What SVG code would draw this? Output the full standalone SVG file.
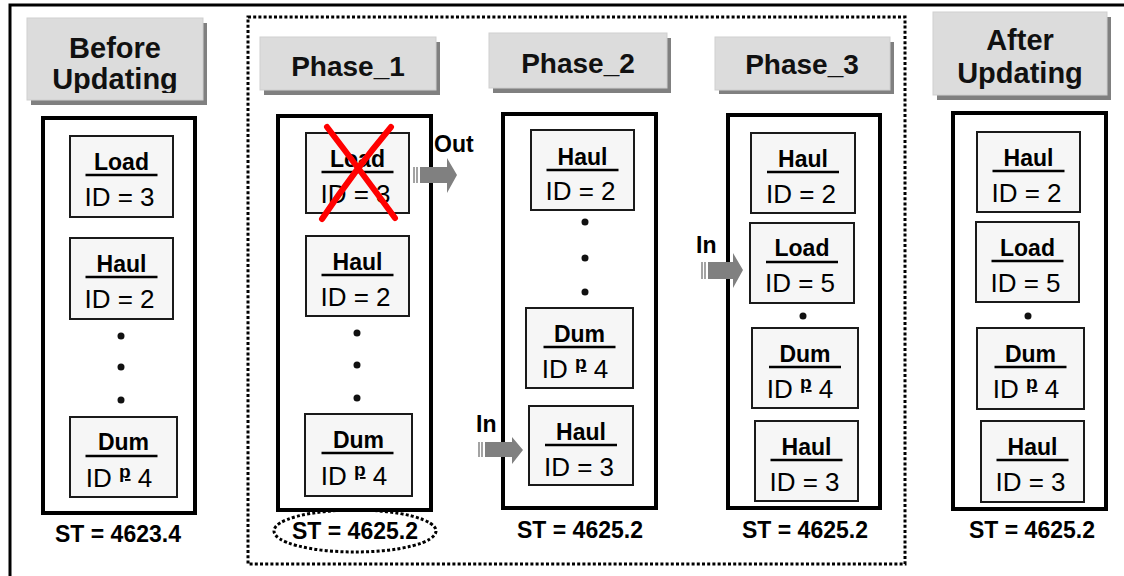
<svg xmlns="http://www.w3.org/2000/svg" width="1124" height="576" viewBox="0 0 1124 576">
  <style>
    text { font-family: "Liberation Sans", Arial, sans-serif; fill: #000; }
    .hdr { fill: #dcdcdc; stroke: #cfcfcf; stroke-width: 1; }
    .shd { fill: #808080; }
    .ht { font-size: 28px; font-weight: bold; text-anchor: middle; fill: #111; }
    .ht2 { font-size: 29px; font-weight: bold; text-anchor: middle; fill: #111; }
    .cont { fill: #fff; stroke: #000; stroke-width: 4; }
    .box { fill: #f6f6f6; stroke: #1a1a1a; stroke-width: 2; }
    .nm { font-size: 23px; font-weight: bold; text-anchor: middle; }
    .id { font-size: 26px; text-anchor: middle; }
    .sup { font-size: 19px; font-weight: bold; text-decoration: underline; }
    .ul { stroke: #000; stroke-width: 2.5; }
    .dot { fill: #111; }
    .st { font-size: 23px; font-weight: bold; text-anchor: middle; }
    .lbl { font-size: 23px; font-weight: bold; }
    .arw { fill: #808080; }
    .tail { stroke: #8c8c8c; stroke-width: 1.6; }
    .cross { fill: none; stroke: #f00; stroke-width: 6; stroke-linecap: round; }
    .dotted { fill: none; stroke: #000; stroke-width: 3; stroke-dasharray: 3 2.2; }
  </style>
  <defs>
    <clipPath id="clipBefore"><rect x="27" y="18" width="176" height="75"/></clipPath>
  </defs>

  <!-- outer frame (top and left edges) -->
  <path d="M10 576 V5 H1124" fill="none" stroke="#000" stroke-width="3"/>

  <!-- dotted frame enclosing the three update phases -->
  <rect class="dotted" x="248" y="17" width="657" height="547"/>

  <!-- column headers -->
  <g id="hdr-before">
    <rect class="shd" x="31" y="23" width="176" height="82"/>
    <rect class="hdr" x="27" y="18" width="176" height="82"/>
    <g clip-path="url(#clipBefore)">
      <text class="ht2" x="115" y="58">Before</text>
      <text class="ht2" x="115" y="89">Updating</text>
    </g>
  </g>
  <g id="hdr-phase1">
    <rect class="shd" x="264" y="42" width="176" height="53"/>
    <rect class="hdr" x="260" y="37" width="176" height="53"/>
    <text class="ht" x="348" y="76">Phase_1</text>
  </g>
  <g id="hdr-phase2">
    <rect class="shd" x="493" y="38" width="178" height="55"/>
    <rect class="hdr" x="489" y="33" width="178" height="55"/>
    <text class="ht" x="578" y="73">Phase_2</text>
  </g>
  <g id="hdr-phase3">
    <rect class="shd" x="719" y="42" width="175" height="52"/>
    <rect class="hdr" x="715" y="37" width="175" height="53"/>
    <text class="ht" x="802" y="74">Phase_3</text>
  </g>
  <g id="hdr-after">
    <rect class="shd" x="937" y="17" width="174" height="83"/>
    <rect class="hdr" x="933" y="12" width="174" height="83"/>
    <text class="ht2" x="1020" y="50">After</text>
    <text class="ht2" x="1020" y="83">Updating</text>
  </g>

  <!-- Before Updating -->
  <g id="col-before">
    <rect class="cont" x="43" y="118" width="152" height="395"/>
    <g id="b-load3">
      <rect class="box" x="70" y="136" width="103" height="81"/>
      <text class="nm" x="121.5" y="170">Load</text>
      <line class="ul" x1="85.5" y1="175" x2="157.5" y2="175"/>
      <text class="id" x="119.5" y="206">ID = 3</text>
    </g>
    <g id="b-haul2">
      <rect class="box" x="70" y="238" width="103" height="81"/>
      <text class="nm" x="121.5" y="272">Haul</text>
      <line class="ul" x1="85.5" y1="277" x2="157.5" y2="277"/>
      <text class="id" x="119.5" y="308">ID = 2</text>
    </g>
    <circle class="dot" cx="121" cy="336" r="3.5"/>
    <circle class="dot" cx="121" cy="367" r="3.5"/>
    <circle class="dot" cx="121" cy="400" r="3.5"/>
    <g id="b-dum4">
      <rect class="box" x="70" y="417" width="107" height="80"/>
      <text class="nm" x="123.5" y="450">Dum</text>
      <line class="ul" x1="85.5" y1="456" x2="157.5" y2="456"/>
      <text class="id" x="119" y="487">ID <tspan class="sup" dy="-9">p</tspan><tspan dy="9"> 4</tspan></text>
    </g>
    <text class="st" x="118" y="542">ST = 4623.4</text>
  </g>

  <!-- Phase_1 -->
  <g id="col-phase1">
    <rect class="cont" x="278" y="116" width="153" height="394"/>
    <g id="p1-load3">
      <rect class="box" x="306" y="133" width="103" height="80"/>
      <text class="nm" x="357.5" y="167">Load</text>
      <line class="ul" x1="321.5" y1="172" x2="393.5" y2="172"/>
      <text class="id" x="355.5" y="203">ID = 3</text>
      <path class="cross" d="M327 127 Q360 170 395 218"/>
      <path class="cross" d="M391 127 Q355 170 322 219"/>
    </g>
    <g id="p1-haul2">
      <rect class="box" x="306" y="236" width="103" height="80"/>
      <text class="nm" x="357.5" y="270">Haul</text>
      <line class="ul" x1="321.5" y1="275" x2="393.5" y2="275"/>
      <text class="id" x="355.5" y="306">ID = 2</text>
    </g>
    <circle class="dot" cx="357" cy="333" r="3.5"/>
    <circle class="dot" cx="357" cy="365" r="3.5"/>
    <circle class="dot" cx="357" cy="398" r="3.5"/>
    <g id="p1-dum4">
      <rect class="box" x="305" y="414" width="107" height="82"/>
      <text class="nm" x="358.5" y="448">Dum</text>
      <line class="ul" x1="321.5" y1="453" x2="393.5" y2="453"/>
      <text class="id" x="354" y="485">ID <tspan class="sup" dy="-9">p</tspan><tspan dy="9"> 4</tspan></text>
    </g>
    <ellipse class="dotted" cx="355" cy="531" rx="81" ry="21"/>
    <text class="st" x="355" y="539">ST = 4625.2</text>
  </g>

  <!-- Phase_2 -->
  <g id="col-phase2">
    <rect class="cont" x="503" y="114" width="153" height="394"/>
    <g id="p2-haul2">
      <rect class="box" x="531" y="130" width="103" height="80"/>
      <text class="nm" x="582.5" y="165">Haul</text>
      <line class="ul" x1="546.5" y1="170" x2="618.5" y2="170"/>
      <text class="id" x="580.5" y="200">ID = 2</text>
    </g>
    <circle class="dot" cx="585" cy="222" r="3.5"/>
    <circle class="dot" cx="585" cy="258" r="3.5"/>
    <circle class="dot" cx="585" cy="292" r="3.5"/>
    <g id="p2-dum4">
      <rect class="box" x="526" y="308" width="107" height="80"/>
      <text class="nm" x="579.5" y="342">Dum</text>
      <line class="ul" x1="543.5" y1="347" x2="615.5" y2="347"/>
      <text class="id" x="575" y="378">ID <tspan class="sup" dy="-9">p</tspan><tspan dy="9"> 4</tspan></text>
    </g>
    <g id="p2-haul3">
      <rect class="box" x="529" y="406" width="104" height="79"/>
      <text class="nm" x="581" y="440">Haul</text>
      <line class="ul" x1="545" y1="445" x2="617" y2="445"/>
      <text class="id" x="579" y="476">ID = 3</text>
    </g>
    <text class="st" x="580" y="538">ST = 4625.2</text>
  </g>

  <!-- Phase_3 -->
  <g id="col-phase3">
    <rect class="cont" x="728" y="115" width="152" height="393"/>
    <g id="p3-haul2">
      <rect class="box" x="751" y="133" width="104" height="80"/>
      <text class="nm" x="803" y="167">Haul</text>
      <line class="ul" x1="767" y1="172" x2="839" y2="172"/>
      <text class="id" x="801" y="203">ID = 2</text>
    </g>
    <g id="p3-load5">
      <rect class="box" x="750" y="223" width="104" height="80"/>
      <text class="nm" x="802" y="256">Load</text>
      <line class="ul" x1="766" y1="262" x2="838" y2="262"/>
      <text class="id" x="800" y="292">ID = 5</text>
    </g>
    <circle class="dot" cx="803" cy="316" r="3.5"/>
    <g id="p3-dum4">
      <rect class="box" x="752" y="328" width="106" height="80"/>
      <text class="nm" x="805" y="362">Dum</text>
      <line class="ul" x1="769" y1="367" x2="841" y2="367"/>
      <text class="id" x="800" y="398">ID <tspan class="sup" dy="-9">p</tspan><tspan dy="9"> 4</tspan></text>
    </g>
    <g id="p3-haul3">
      <rect class="box" x="755" y="421" width="103" height="80"/>
      <text class="nm" x="806.5" y="455">Haul</text>
      <line class="ul" x1="770.5" y1="460" x2="842.5" y2="460"/>
      <text class="id" x="804.5" y="491">ID = 3</text>
    </g>
    <text class="st" x="805" y="538">ST = 4625.2</text>
  </g>

  <!-- After Updating -->
  <g id="col-after">
    <rect class="cont" x="953" y="113" width="153" height="396"/>
    <g id="a-haul2">
      <rect class="box" x="977" y="132" width="103" height="80"/>
      <text class="nm" x="1028.5" y="166">Haul</text>
      <line class="ul" x1="992.5" y1="171" x2="1064.5" y2="171"/>
      <text class="id" x="1026.5" y="202">ID = 2</text>
    </g>
    <g id="a-load5">
      <rect class="box" x="976" y="222" width="103" height="80"/>
      <text class="nm" x="1027.5" y="256">Load</text>
      <line class="ul" x1="991.5" y1="261" x2="1063.5" y2="261"/>
      <text class="id" x="1025.5" y="292">ID = 5</text>
    </g>
    <circle class="dot" cx="1028" cy="316" r="3.5"/>
    <g id="a-dum4">
      <rect class="box" x="977" y="328" width="107" height="81"/>
      <text class="nm" x="1030.5" y="362">Dum</text>
      <line class="ul" x1="994.5" y1="367" x2="1066.5" y2="367"/>
      <text class="id" x="1026" y="398">ID <tspan class="sup" dy="-9">p</tspan><tspan dy="9"> 4</tspan></text>
    </g>
    <g id="a-haul3">
      <rect class="box" x="981" y="421" width="103" height="81"/>
      <text class="nm" x="1032.5" y="455">Haul</text>
      <line class="ul" x1="996.5" y1="460" x2="1068.5" y2="460"/>
      <text class="id" x="1030.5" y="491">ID = 3</text>
    </g>
    <text class="st" x="1032" y="538">ST = 4625.2</text>
  </g>

  <!-- transfer arrows -->
  <g id="connectors">
    <g id="arrow-out">
      <line class="tail" x1="414" y1="167" x2="414" y2="183"/>
      <line class="tail" x1="417" y1="167" x2="417" y2="183"/>
      <polygon class="arw" points="420,167 447,167 447,158 457,175 447,193 447,183 420,183"/>
      <text class="lbl" x="434" y="152">Out</text>
    </g>
    <g id="arrow-in-phase2">
      <line class="tail" x1="479" y1="442" x2="479" y2="457"/>
      <line class="tail" x1="482" y1="442" x2="482" y2="457"/>
      <polygon class="arw" points="485,442 512,442 512,437 523,450 512,464 512,457 485,457"/>
      <text class="lbl" x="476" y="432">In</text>
    </g>
    <g id="arrow-in-phase3">
      <line class="tail" x1="702" y1="262" x2="702" y2="279"/>
      <line class="tail" x1="705" y1="262" x2="705" y2="279"/>
      <polygon class="arw" points="708,262 733,262 733,253 743,270 733,288 733,279 708,279"/>
      <text class="lbl" x="696" y="253">In</text>
    </g>
  </g>
</svg>
